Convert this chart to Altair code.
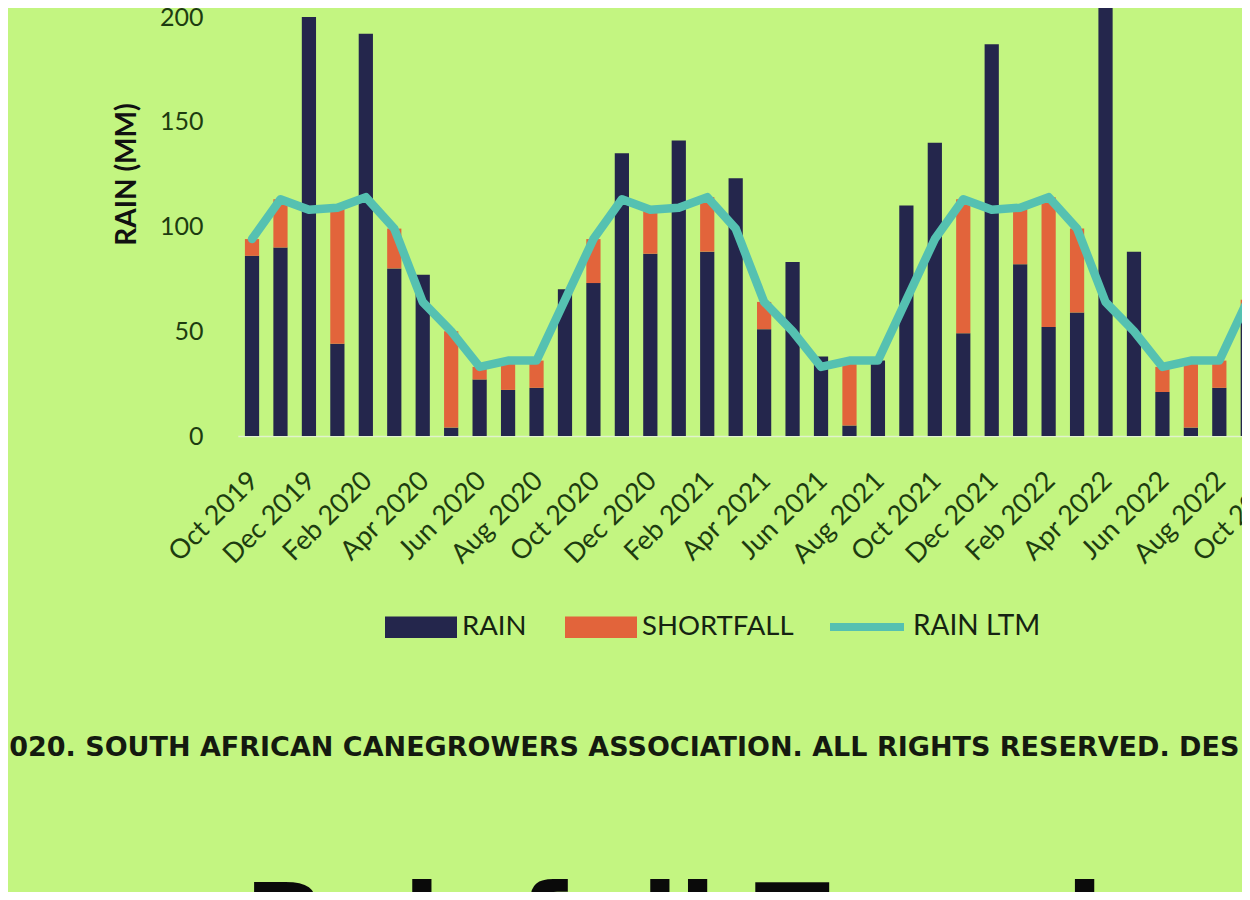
import altair as alt
import pandas as pd

# ---------------- data ----------------
months = [
    "Oct 2019", "Nov 2019", "Dec 2019", "Jan 2020", "Feb 2020", "Mar 2020",
    "Apr 2020", "May 2020", "Jun 2020", "Jul 2020", "Aug 2020", "Sep 2020",
    "Oct 2020", "Nov 2020", "Dec 2020", "Jan 2021", "Feb 2021", "Mar 2021",
    "Apr 2021", "May 2021", "Jun 2021", "Jul 2021", "Aug 2021", "Sep 2021",
    "Oct 2021", "Nov 2021", "Dec 2021", "Jan 2022", "Feb 2022", "Mar 2022",
    "Apr 2022", "May 2022", "Jun 2022", "Jul 2022", "Aug 2022", "Sep 2022",
    "Oct 2022",
]
rain = [86, 90, 200, 44, 192, 80, 77, 4, 27, 22, 23, 70,
        73, 135, 87, 141, 88, 123, 51, 83, 38, 5, 36, 110,
        140, 49, 187, 82, 52, 59, 215, 88, 21, 4, 23, 55]
shortfall = [8, 23, 0, 65, 0, 19, 0, 46, 6, 14, 13, 0,
             21, 0, 21, 0, 26, 0, 13, 0, 0, 31, 0, 0,
             0, 64, 0, 27, 62, 40, 0, 0, 12, 32, 13, 10]
rain_ltm = [94, 113, 108, 109, 114, 99, 64, 50, 33, 36, 36, 65,
            94, 113, 108, 109, 114, 99, 64, 50, 33, 36, 36, 65,
            94, 113, 108, 109, 114, 99, 64, 50, 33, 36, 36, 65]
tick_months = months[::2]
y_ticks = [0, 50, 100, 150, 200]

copyright_text = ["© 2020. SOUTH AFRICAN CANEGROWERS ASSOCIATION. ALL RIGHTS RESERVED. DES"]
heading_text = ["Rainfall Trends"]

n = len(rain)
df = pd.DataFrame({
    "month": months[:n],
    "RAIN": rain,
    "SHORTFALL": shortfall,
    "RAIN LTM": rain_ltm,
})

# ---------------- styling ----------------
BG = "#c3f581"
NAVY = "#24264c"
ORANGE = "#e2643b"
TEAL = "#55c1b1"
TICK_COLOR = "#1d3c10"
FONT = "Lato"

STEP = 28.45
X0 = 5.8
x_scale = alt.Scale(domain=months, range=[X0, X0 + len(months) * STEP],
                    paddingInner=0.5, paddingOuter=0.25)
y_scale = alt.Scale(domain=[0, 204.3], nice=False, zero=True)

x_enc = alt.X(
    "month:N", scale=x_scale,
    axis=alt.Axis(values=tick_months, labelAngle=-45, labelAlign="right",
                  labelBaseline="top", labelPadding=31, labelOffset=-7,
                  ticks=False, tickSize=0,
                  domain=True, domainColor="#e0f3cc", domainWidth=1.5,
                  grid=False, title=None, labelFont=FONT, labelFontSize=27,
                  labelColor=TICK_COLOR, labelOverlap=False),
)
y_enc = alt.Y(
    "value:Q", scale=y_scale, stack="zero",
    axis=alt.Axis(values=y_ticks, ticks=False, tickSize=0, domain=False, grid=False,
                  labelPadding=29, labelFont=FONT, labelFontSize=25,
                  labelColor=TICK_COLOR, title="RAIN (MM)", titleFont=FONT,
                  titleFontSize=28, titleFontWeight="bold", titleColor="#111111",
                  titlePadding=18, titleY=166),
)

bars = alt.Chart(df).transform_fold(
    ["RAIN", "SHORTFALL"], as_=["key", "value"]
).mark_bar().encode(
    x=x_enc,
    y=y_enc,
    color=alt.Color(
        "key:N",
        scale=alt.Scale(domain=["RAIN", "SHORTFALL"], range=[NAVY, ORANGE]),
        legend=alt.Legend(title=None, orient="none", legendX=153, legendY=583,
                          direction="horizontal",
                          symbolType="M-1,-0.3L1,-0.3L1,0.3L-1,0.3Z",
                          symbolSize=5184, symbolStrokeWidth=0,
                          labelFont=FONT, labelFontSize=27.5, labelColor="#152312",
                          labelOffset=5, columnPadding=38, padding=0),
    ),
    order=alt.Order("key:N", sort="ascending"),
)

line = alt.Chart(df).transform_fold(
    ["RAIN LTM"], as_=["key", "value"]
).mark_line(strokeWidth=8.5, strokeJoin="round", strokeCap="round").encode(
    x=x_enc,
    y=alt.Y("value:Q", scale=y_scale),
    stroke=alt.Stroke(
        "key:N",
        scale=alt.Scale(domain=["RAIN LTM"], range=[TEAL]),
        legend=alt.Legend(title=None, orient="none", legendX=594, legendY=578,
                          symbolType="stroke", symbolSize=5476,
                          symbolStrokeWidth=8, labelFont=FONT, labelFontSize=28,
                          labelColor="#152312", labelOffset=5, padding=0),
    ),
)

copyright = alt.Chart(pd.DataFrame({"t": copyright_text})).mark_text(
    align="left", baseline="middle", font="DejaVu Sans", fontWeight="bold",
    fontSize=27.0, color="#141a10",
).encode(x=alt.value(-278), y=alt.value(740), text="t:N")

heading = alt.Chart(pd.DataFrame({"t": heading_text})).mark_text(
    align="left", baseline="alphabetic", font="DejaVu Sans", fontWeight="bold",
    fontSize=110, color="#0a0a0a",
).encode(x=alt.value(12), y=alt.value(955), text="t:N")

chart = alt.layer(bars, line, copyright, heading).properties(
    width=1010,
    height=428,
    autosize=alt.AutoSizeParams(type="none"),
    padding={"left": 224, "top": 0, "right": 0, "bottom": 456},
    background=BG,
).configure_view(stroke=None)

chart.save("out.html", embed_options={"renderer": "svg", "actions": False})
